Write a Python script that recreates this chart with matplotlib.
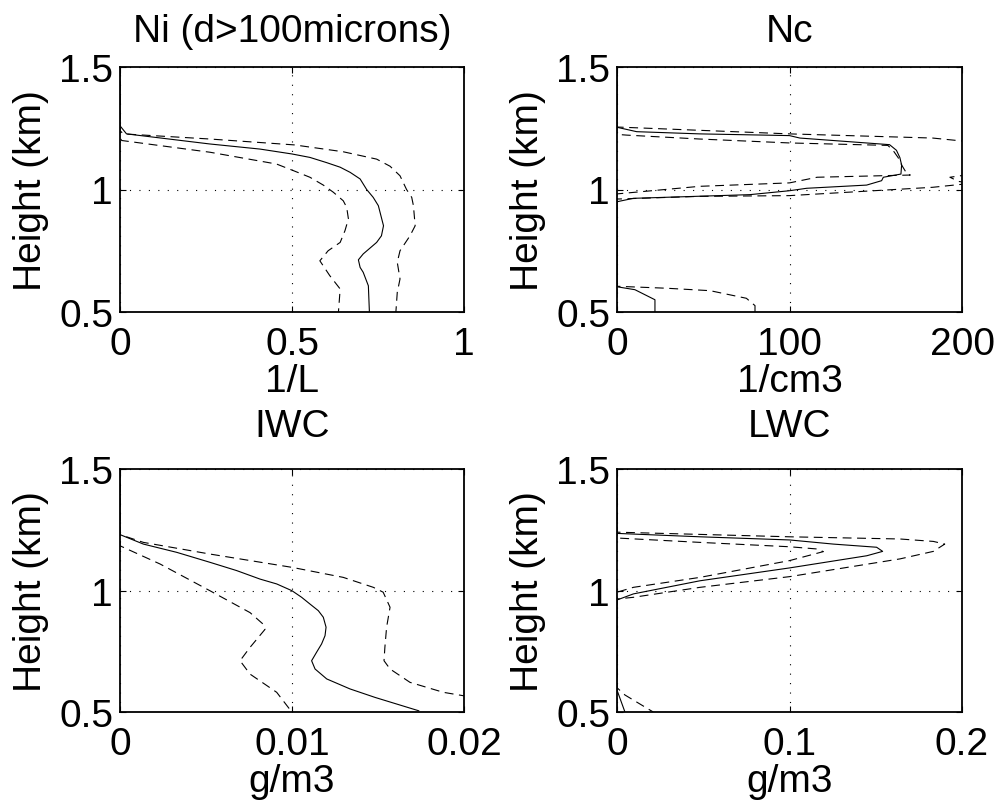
import matplotlib
matplotlib.use("Agg")
import matplotlib.pyplot as plt

plt.rcParams['font.family'] = ['Liberation Sans', 'DejaVu Sans']

# ---------------- data (value, height) ----------------
# Ni (d>100 microns), 1/L
ni_mean_x = [0, 0, 0.019, 0.26, 0.407, 0.50, 0.552, 0.60, 0.640, 0.669, 0.698, 0.717, 0.736, 0.751, 0.766, 0.760, 0.746, 0.707, 0.693, 0.698, 0.707, 0.722, 0.725]
ni_mean_h = [1.5, 1.26, 1.227, 1.186, 1.165, 1.145, 1.131, 1.11, 1.091, 1.07, 1.043, 1.0, 0.968, 0.934, 0.852, 0.811, 0.784, 0.737, 0.713, 0.682, 0.662, 0.607, 0.5]
ni_hi_x = [0, 0, 0.01, 0.262, 0.507, 0.649, 0.746, 0.785, 0.814, 0.833, 0.848, 0.853, 0.858, 0.843, 0.814, 0.806, 0.814, 0.806, 0.802]
ni_hi_h = [1.5, 1.24, 1.227, 1.206, 1.182, 1.154, 1.124, 1.095, 1.056, 1.0, 0.968, 0.934, 0.852, 0.811, 0.75, 0.703, 0.635, 0.58, 0.5]
ni_lo_x = [0, 0, 0.005, 0.262, 0.455, 0.504, 0.552, 0.591, 0.62, 0.649, 0.659, 0.664, 0.654, 0.64, 0.605, 0.581, 0.61, 0.64, 0.635]
ni_lo_h = [1.5, 1.21, 1.2, 1.152, 1.104, 1.077, 1.05, 1.018, 0.989, 0.954, 0.927, 0.88, 0.832, 0.784, 0.75, 0.709, 0.648, 0.594, 0.5]

# Nc, 1/cm3
nc_mean_x = [0, 0, 11.4, 48, 100, 106, 158, 162, 164, 165, 164.6, 154.4, 153.4, 144.7, 110, 100, 77, 9.5, 0, 0, 10.4, 22, 22]
nc_mean_h = [1.5, 1.254, 1.236, 1.227, 1.22, 1.21, 1.183, 1.16, 1.13, 1.10, 1.063, 1.05, 1.036, 1.018, 1.005, 0.995, 0.979, 0.964, 0.95, 0.603, 0.591, 0.55, 0.5]
nc_hi_x = [0, 0, 100, 183, 200, 225, 230, 205, 193, 198, 205, 183, 100, 48, 0, 0, 28.8, 54, 75, 80, 80]
nc_hi_h = [1.5, 1.255, 1.227, 1.21, 1.198, 1.15, 1.10, 1.062, 1.05, 1.033, 1.025, 1.009, 0.975, 0.972, 0.961, 0.605, 0.597, 0.587, 0.556, 0.526, 0.5]
nc_lo_x = [0, 0, 5.6, 48, 100, 157, 160, 163, 165, 168, 170, 116, 100, 48, 0, 0]
nc_lo_h = [1.5, 1.225, 1.222, 1.206, 1.19, 1.18, 1.16, 1.13, 1.10, 1.065, 1.059, 1.05, 1.027, 1.013, 0.982, 0.5]

# IWC, g/m3
iwc_mean_x = [0, 0, 0.00136, 0.0033, 0.00523, 0.00678, 0.00814, 0.00911, 0.0100, 0.01056, 0.01105, 0.01153, 0.01182, 0.01198, 0.01192, 0.01172, 0.01143, 0.01114, 0.01134, 0.01202, 0.01337, 0.01483, 0.01737]
iwc_mean_h = [1.5, 1.23, 1.191, 1.157, 1.116, 1.082, 1.047, 1.027, 0.999, 0.972, 0.944, 0.917, 0.89, 0.849, 0.814, 0.78, 0.746, 0.711, 0.677, 0.636, 0.595, 0.56, 0.505]
iwc_hi_x = [0, 0, 0.00136, 0.00523, 0.01002, 0.01298, 0.01473, 0.0153, 0.0157, 0.0155, 0.0154, 0.01535, 0.0157, 0.01686, 0.0188, 0.01996, 0.0225]
iwc_hi_h = [1.5, 1.23, 1.198, 1.15, 1.095, 1.054, 1.013, 0.993, 0.931, 0.849, 0.766, 0.711, 0.677, 0.622, 0.581, 0.567, 0.53]
iwc_lo_x = [0, 0, 0.00233, 0.00523, 0.00756, 0.00833, 0.00843, 0.00756, 0.00698, 0.00756, 0.00911, 0.00999]
iwc_lo_h = [1.5, 1.184, 1.109, 0.999, 0.909, 0.861, 0.84, 0.766, 0.711, 0.656, 0.581, 0.5]

# LWC, g/m3
lwc_mean_x = [0, 0, 0.0481, 0.1001, 0.1254, 0.1505, 0.154, 0.1448, 0.1001, 0.0481, 0.0095, 0, 0, 0.0046]
lwc_mean_h = [1.5, 1.235, 1.221, 1.208, 1.191, 1.178, 1.161, 1.143, 1.093, 1.04, 0.986, 0.961, 0.59, 0.5]
lwc_hi_x = [0, 0, 0.1, 0.164, 0.1834, 0.190, 0.1834, 0.164, 0.1, 0.0481, 0.0095, 0, 0, 0.0046, 0.021]
lwc_hi_h = [1.5, 1.24, 1.221, 1.212, 1.202, 1.191, 1.161, 1.13, 1.057, 1.013, 0.972, 0.965, 0.60, 0.57, 0.5]
lwc_lo_x = [0, 0, 0.0481, 0.1, 0.1158, 0.1196, 0.1, 0.0481, 0.0095, 0, 0]
lwc_lo_h = [1.5, 1.216, 1.198, 1.180, 1.171, 1.16, 1.123, 1.054, 1.013, 0.993, 0.5]

titles = ["Ni (d>100microns)", "Nc", "IWC", "LWC"]
xlabels = ["1/L", "1/cm3", "g/m3", "g/m3"]
xlims = [(0, 1), (0, 200), (0, 0.02), (0, 0.2)]
xticks = [[0, 0.5, 1], [0, 100, 200], [0, 0.01, 0.02], [0, 0.1, 0.2]]
xticklabels = [["0", "0.5", "1"], ["0", "100", "200"], ["0", "0.01", "0.02"], ["0", "0.1", "0.2"]]
yticks = [0.5, 1, 1.5]
yticklabels = ["0.5", "1", "1.5"]

series = [
    (ni_mean_x, ni_mean_h, ni_hi_x, ni_hi_h, ni_lo_x, ni_lo_h),
    (nc_mean_x, nc_mean_h, nc_hi_x, nc_hi_h, nc_lo_x, nc_lo_h),
    (iwc_mean_x, iwc_mean_h, iwc_hi_x, iwc_hi_h, iwc_lo_x, iwc_lo_h),
    (lwc_mean_x, lwc_mean_h, lwc_hi_x, lwc_hi_h, lwc_lo_x, lwc_lo_h),
]

# ---------------- figure ----------------
W, H = 996, 803
fig = plt.figure(figsize=(W / 100, H / 100), dpi=100)

boxes = [(120, 68, 464, 313), (617, 68, 962, 313), (120, 470, 464, 713), (617, 470, 962, 713)]
FS = 28

for i, (l, t, r, b) in enumerate(boxes):
    ax = fig.add_axes([l / W, 1 - b / H, (r - l) / W, (b - t) / H])
    mx, mh, hx, hh, lx, lh = series[i]
    ax.plot(mx, mh, color='k', lw=0.8, ls='-')
    ax.plot(hx, hh, color='k', lw=0.8, ls=(0, (8, 5)))
    ax.plot(lx, lh, color='k', lw=0.8, ls=(0, (8, 5)))
    ax.set_xlim(*xlims[i])
    ax.set_ylim(0.5, 1.5)
    ax.set_xticks(xticks[i])
    ax.set_xticklabels(xticklabels[i])
    ax.set_yticks(yticks)
    ax.set_yticklabels(yticklabels)
    ax.grid(True, color='k', lw=0.8, ls=(0, (1, 7.5)))
    ax.tick_params(direction='in', top=True, right=True, length=4, width=0.8,
                   labelsize=FS)
    ax.tick_params(axis='x', pad=10)
    ax.tick_params(axis='y', pad=5)
    for s in ax.spines.values():
        s.set_linewidth(1.3)
    pad = 18.5 if i < 2 else 23.5
    ax.set_title(titles[i], fontsize=FS, pad=pad)
    ax.set_xlabel(xlabels[i], fontsize=FS, va='baseline')
    ax.xaxis.set_label_coords(0.5, -79 / (b - t))
    ax.set_ylabel("Height (km)", fontsize=FS, va='baseline')
    ax.yaxis.set_label_coords(-79 / (r - l), 0.5)

fig.savefig("out.png", dpi=100)
